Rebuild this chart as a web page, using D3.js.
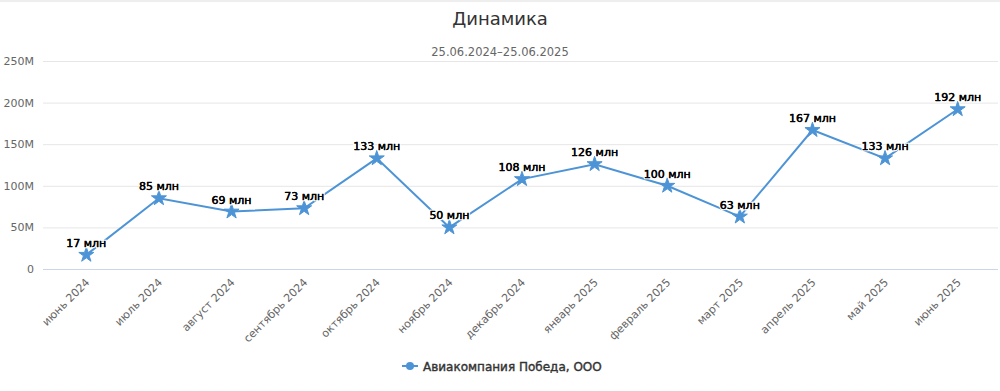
<!DOCTYPE html>
<html>
<head>
<meta charset="utf-8">
<script src="https://cdn.jsdelivr.net/npm/d3@7"></script>
<style>
body { margin: 0; background: #fff; }
text { font-family: "DejaVu Sans", sans-serif; }
</style>
</head>
<body>
<script>
var months = ["июнь 2024", "июль 2024", "август 2024", "сентябрь 2024", "октябрь 2024", "ноябрь 2024",
	"декабрь 2024", "январь 2025", "февраль 2025", "март 2025", "апрель 2025", "май 2025", "июнь 2025"];
var values = [17, 85, 69, 73, 133, 50, 108, 126, 100, 63, 167, 133, 192]; // млн
var yTicks = [0, 50, 100, 150, 200, 250];
var seriesName = "Авиакомпания Победа, ООО";

var width = 1000,
	height = 391,
	color = "#4d94d6";

var x = d3.scalePoint(months, [50, 994]).padding(0.5);
var y = d3.scaleLinear([0, 250], [269, 61]);

var svg = d3.select("body").append("svg")
	.attr("width", width)
	.attr("height", height);

svg.append("rect")
	.attr("width", width).attr("height", 2)
	.attr("fill", "#eeeeee");

// title
svg.append("text")
	.attr("x", 500).attr("y", 25)
	.attr("text-anchor", "middle")
	.attr("font-size", 18)
	.attr("fill", "#333")
	.text("Динамика");

svg.append("text")
	.attr("x", 500).attr("y", 56)
	.attr("text-anchor", "middle")
	.attr("font-size", 11.5)
	.attr("fill", "#666")
	.text("25.06.2024–25.06.2025");

// grid
svg.append("g")
	.selectAll("line")
	.data(yTicks)
	.enter().append("line")
	.attr("x1", 43).attr("x2", 998)
	.attr("y1", function(d) { return y(d) + 0.5; })
	.attr("y2", function(d) { return y(d) + 0.5; })
	.attr("stroke", function(d) { return d === 0 ? "#ccd6eb" : "#e6e6e6"; });

svg.append("g")
	.selectAll("text")
	.data(yTicks)
	.enter().append("text")
	.attr("x", 34)
	.attr("y", function(d) { return y(d) + 4; })
	.attr("text-anchor", "end")
	.attr("font-size", 11)
	.attr("fill", "#666")
	.text(function(d) { return d === 0 ? "0" : d + "M"; });

// x labels
svg.append("g")
	.selectAll("text")
	.data(months)
	.enter().append("text")
	.attr("transform", function(d) { return "translate(" + (x(d) + 4) + ",283) rotate(-45)"; })
	.attr("text-anchor", "end")
	.attr("font-size", 11)
	.attr("fill", "#666")
	.text(function(d) { return d; });

// line
var line = d3.line()
	.x(function(d, i) { return x(months[i]); })
	.y(function(d) { return y(d); });

svg.append("path")
	.datum(values)
	.attr("d", line)
	.attr("fill", "none")
	.attr("stroke", color)
	.attr("stroke-width", 2);

var star = d3.symbol().type(d3.symbolStar).size(70);

svg.append("g")
	.selectAll("path")
	.data(values)
	.enter().append("path")
	.attr("d", star)
	.attr("transform", function(d, i) { return "translate(" + x(months[i]) + "," + y(d) + ")"; })
	.attr("fill", color)
	.attr("stroke", color)
	.attr("stroke-width", 1);

// data labels: white halo, then text
var labels = svg.append("g");
[["#fff", 2.5], ["#000", 0.35]].forEach(function(s) {
	labels.append("g")
		.selectAll("text")
		.data(values)
		.enter().append("text")
		.attr("x", function(d, i) { return x(months[i]); })
		.attr("y", function(d) { return y(d) - 8; })
		.attr("text-anchor", "middle")
		.attr("font-size", 11)
		.attr("fill", "#000")
		.attr("stroke", s[0])
		.attr("stroke-width", s[1])
		.attr("paint-order", "stroke")
		.text(function(d) { return d + " млн"; });
});

// legend
var lg = svg.append("g").attr("transform", "translate(402,366)");
lg.append("line")
	.attr("x1", 0).attr("x2", 16)
	.attr("stroke", color).attr("stroke-width", 2);
lg.append("circle")
	.attr("cx", 8).attr("r", 4)
	.attr("fill", color);
lg.append("text")
	.attr("x", 21).attr("y", 4.5)
	.attr("font-size", 12)
	.attr("fill", "#333")
	.attr("stroke", "#333")
	.attr("stroke-width", 0.4)
	.text(seriesName);
</script>
</body>
</html>
